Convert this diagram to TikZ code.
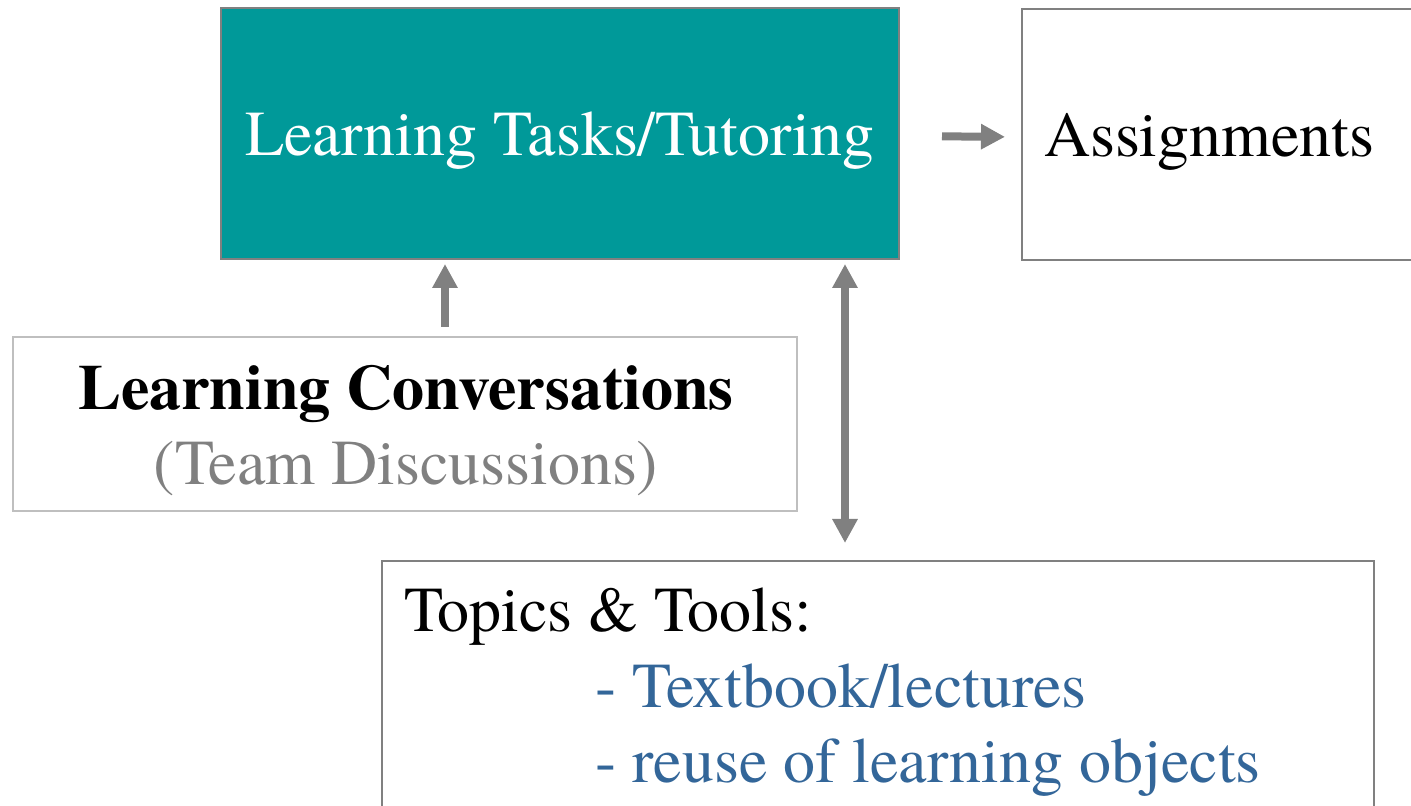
\documentclass[tikz,border=0pt]{standalone}
\usepackage{fontspec}
\setmainfont{TeX Gyre Termes}
\usetikzlibrary{arrows.meta}
\definecolor{tealbox}{RGB}{0,153,153}
\definecolor{linkblue}{RGB}{51,102,153}
\definecolor{arrgray}{RGB}{128,128,128}

\begin{document}
\begin{tikzpicture}[font=\fontsize{36.4}{42.6}\selectfont,
  box/.style={draw=arrgray, line width=0.04cm, inner sep=0pt},
  arr/.style={arrgray, line width=0.16cm, -{Triangle[length=0.48cm,width=0.48cm]}},
  dblarr/.style={arrgray, line width=0.16cm, {Triangle[length=0.48cm,width=0.48cm]}-{Triangle[length=0.48cm,width=0.48cm]}}]
\useasboundingbox (0,0) rectangle (28.22,-16.12);
\clip (0,0) rectangle (28.22,-16.12);

\node[box, fill=tealbox, text=white, minimum width=13.56cm, minimum height=5.02cm,
  text height=0.9cm, text depth=0cm] (tasks) at (11.2,-2.67) {Learning Tasks/Tutoring};
\node[box, anchor=north west, minimum width=8.4cm, minimum height=5.02cm,
  text width=7.96cm, inner xsep=0.44cm, align=left,
  text height=0.9cm, text depth=0cm] (assign) at (20.42,-0.16) {Assignments};
\node[box, draw=gray!50, minimum width=15.68cm, minimum height=3.48cm] (conv) at (8.1,-8.48) {};
\node[box, anchor=north west, minimum width=19.84cm, minimum height=6cm] (topics) at (7.62,-11.2) {};

\node[anchor=base] (convtitle) at (8.12,-8.2) {\textbf{Learning Conversations}};
\node[anchor=base, text=arrgray] (convsub) at (8.12,-9.7) {(Team Discussions)};
\node[anchor=base west] (topictitle) at (7.96,-12.64) {Topics \& Tools:};
\node[anchor=base west, text=linkblue] (topicone) at (11.78,-14.16) {- Textbook/lectures};
\node[anchor=base west, text=linkblue] (topictwo) at (11.78,-15.66) {- reuse of learning objects};

\coordinate (upx) at (8.9,0);
\coordinate (dblx) at (16.9,0);
\draw[arr, shorten <=0.84cm, shorten >=0.32cm] ([yshift=-0.05cm]tasks.east) -- ([yshift=-0.05cm]assign.west);
\draw[arr, shorten <=0.18cm, shorten >=0.08cm] (conv.north -| upx) -- (tasks.south -| upx);
\draw[dblarr, shorten <=0.08cm, shorten >=0.34cm] (tasks.south -| dblx) -- (topics.north -| dblx);
\end{tikzpicture}
\end{document}
